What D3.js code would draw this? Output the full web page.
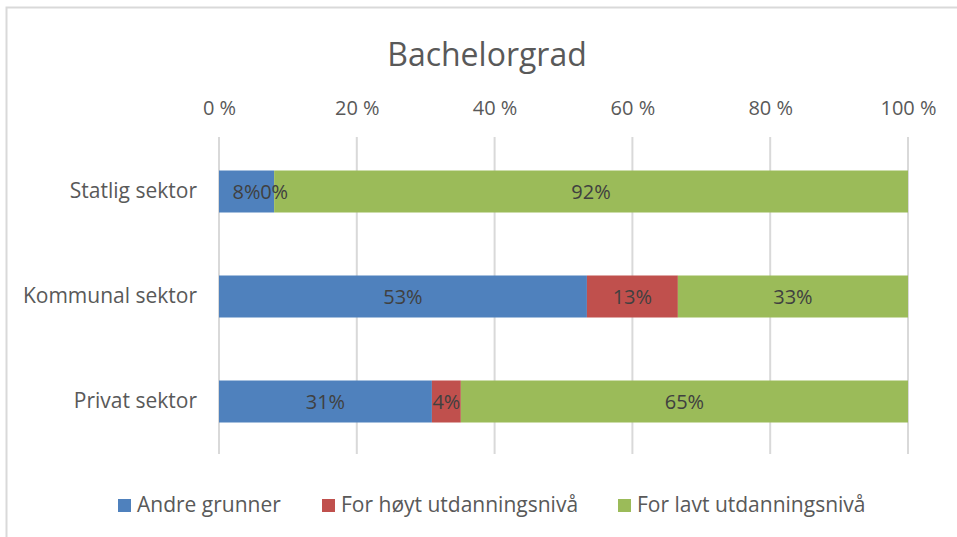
<!DOCTYPE html>
<html><head><meta charset="utf-8">
<script src="https://cdn.jsdelivr.net/npm/d3@7"></script>
<style>html,body{margin:0;padding:0;background:#fff;} svg{display:block;}</style>
</head><body>
<script>
const categories = ["Statlig sektor", "Kommunal sektor", "Privat sektor"];
const seriesNames = ["Andre grunner", "For høyt utdanningsnivå", "For lavt utdanningsnivå"];
const andreGrunner = [0.08, 0.534, 0.309];
const forHoyt = [0.0, 0.132, 0.042];
const forLavt = [0.92, 0.334, 0.649];
const tickValues = [0, 0.2, 0.4, 0.6, 0.8, 1.0];
const tickLabels = ["0 %", "20 %", "40 %", "60 %", "80 %", "100 %"];
const colors = ["#4F81BD", "#C0504D", "#9BBB59"];

(function () {
const W = 957, H = 537;
const font = "'Open Sans', sans-serif";
const svg = d3.select("body").append("svg").attr("width", W).attr("height", H);

// chart border
svg.append("rect").attr("x", 6.5).attr("y", 7.5).attr("width", W + 10).attr("height", H + 10)
  .attr("fill", "#fff").attr("stroke", "#D9D9D9").attr("stroke-width", 2);

const pLeft = 219, pRight = 908, pTop = 139, pBottom = 454;
const x = d3.scaleLinear().domain([0, 1]).range([pLeft, pRight]);
const y = d3.scaleBand().domain(categories).range([pTop, pBottom]).paddingInner(0.6).paddingOuter(0.3);

// title
svg.append("text").attr("x", 487).attr("y", 66).attr("text-anchor", "middle")
  .attr("font-family", font).attr("font-size", 32).attr("fill", "#595959").text("Bachelorgrad");

// gridlines
svg.append("g").selectAll("line").data(tickValues).join("line")
  .attr("x1", d => x(d)).attr("x2", d => x(d)).attr("y1", 137).attr("y2", 454)
  .attr("stroke", "#D9D9D9").attr("stroke-width", 2);

// top axis labels
const axisTop = d3.axisTop(x).tickValues(tickValues).tickFormat((d, i) => tickLabels[i]).tickSize(0).tickPadding(0);
const gx = svg.append("g").attr("transform", "translate(0,115)").call(axisTop);
gx.select(".domain").remove();
gx.selectAll("text").attr("font-family", font).attr("font-size", 20).attr("fill", "#595959");

// left axis labels
const axisLeft = d3.axisLeft(y).tickSize(0).tickPadding(22);
const gy = svg.append("g").attr("transform", `translate(${pLeft},0)`).call(axisLeft);
gy.select(".domain").remove();
gy.selectAll("text").attr("font-family", font).attr("font-size", 21).attr("fill", "#595959");

// stack
const rows = categories.map((c, i) => ({cat: c, s0: andreGrunner[i], s1: forHoyt[i], s2: forLavt[i]}));
const stack = d3.stack().keys(["s0", "s1", "s2"])(rows);

const barsG = svg.append("g");
const labelsG = svg.append("g");
stack.forEach((layer, li) => {
  barsG.append("g").selectAll("rect").data(layer).join("rect")
    .attr("x", d => x(d[0])).attr("width", d => x(d[1]) - x(d[0]))
    .attr("y", d => y(d.data.cat)).attr("height", y.bandwidth())
    .attr("fill", colors[li]);
  labelsG.append("g").selectAll("text").data(layer).join("text")
    .attr("x", d => (x(d[0]) + x(d[1])) / 2)
    .attr("y", d => y(d.data.cat) + y.bandwidth() / 2 + 7)
    .attr("text-anchor", "middle")
    .attr("font-family", font).attr("font-size", 20).attr("fill", "#404040")
    .text(d => Math.round((d[1] - d[0]) * 100) + "%");
});

// legend
const legendX = [118, 322, 618];
const lg = svg.append("g");
seriesNames.forEach((n, i) => {
  lg.append("rect").attr("x", legendX[i]).attr("y", 499).attr("width", 13).attr("height", 13).attr("fill", colors[i]);
  lg.append("text").attr("x", legendX[i] + 19).attr("y", 512)
    .attr("font-family", font).attr("font-size", 21).attr("fill", "#595959").text(n);
});
})();
</script>
</body></html>
